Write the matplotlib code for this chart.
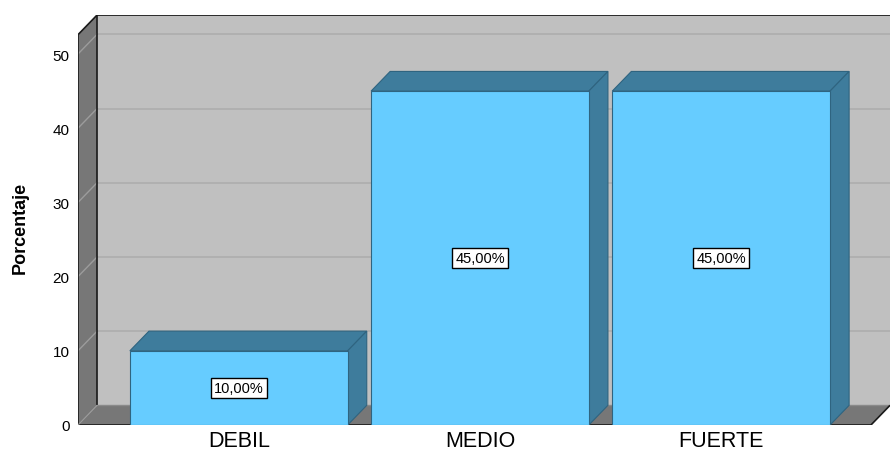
import matplotlib
matplotlib.use("Agg")
import matplotlib.pyplot as plt
from matplotlib.patches import Polygon, Rectangle

plt.rcParams['font.family'] = ['Liberation Sans', 'DejaVu Sans']

categories = ["DEBIL", "MEDIO", "FUERTE"]
porcentaje = [10.0, 45.0, 45.0]
yticks = [0, 10, 20, 30, 40, 50]

# colores tipo SPSS
FRONT = "#66CCFF"
SHADE = "#3E7C9C"
BAR_EDGE = "#2F6480"
WALL = "#C0C0C0"
SIDE = "#777777"
GRID_BACK = "#ADADAD"
GRID_SIDE = "#9C9C9C"

# geometria 3D en unidades de datos
DX = 0.079      # profundidad en x
DY = 2.65       # profundidad en y
X0 = -2 / 3     # plano frontal, borde izquierdo
TOP = 52.6      # altura frontal de la pared
XR = 2.70       # borde derecho (pared del fondo)
W = 0.903       # ancho de barra

fig = plt.figure(figsize=(8.9, 4.52), dpi=100)
ax = fig.add_axes([78 / 890, 26 / 452, (890 - 78) / 890, (424 - 14) / 452])
ax.set_xlim(X0, XR)
ax.set_ylim(0, (424 - 14) / 7.42)
for s in ax.spines.values():
    s.set_visible(False)

# pared del fondo
ax.add_patch(Rectangle((X0 + DX, DY), XR - X0 - DX, TOP, facecolor=WALL, edgecolor="none", zorder=1))
# pared lateral
ax.add_patch(Polygon([(X0, 0), (X0 + DX, DY), (X0 + DX, TOP + DY), (X0, TOP)],
                     facecolor=SIDE, edgecolor="none", zorder=1))
# piso
ax.add_patch(Polygon([(X0, 0), (X0 + DX, DY), (XR, DY), (XR - DX, 0)],
                     facecolor=SIDE, edgecolor="none", zorder=1))

# lineas de cuadricula
for v in yticks[1:]:
    ax.plot([X0 + DX, XR], [v + DY, v + DY], color=GRID_BACK, lw=1.2, zorder=2)
    ax.plot([X0, X0 + DX], [v, v + DY], color=GRID_SIDE, lw=1.0, zorder=2)

# bordes
k = dict(color="#1a1a1a", lw=1.2, zorder=3, solid_capstyle="butt")
ax.plot([X0, X0], [0, TOP], **k)
ax.plot([X0, X0 + DX, XR], [TOP, TOP + DY, TOP + DY], **k)
ax.plot([X0 + DX, X0 + DX], [DY, TOP + DY], **k)
ax.plot([X0, XR - DX, XR], [0, 0, DY], **k)
ax.plot([X0, X0 + DX], [0, DY], color="#9a9a9a", lw=0.8, zorder=3)
ax.plot([X0 + DX, XR], [DY, DY], color="#8a8a8a", lw=1.0, zorder=2)

# barras 3D
for i, v in enumerate(porcentaje):
    l, r = i - W / 2, i + W / 2
    ax.add_patch(Polygon([(l, v), (l + DX, v + DY), (r + DX, v + DY), (r, v)],
                         facecolor=SHADE, edgecolor=BAR_EDGE, lw=0.8, zorder=4))
    ax.add_patch(Polygon([(r, 0), (r + DX, DY), (r + DX, v + DY), (r, v)],
                         facecolor=SHADE, edgecolor=BAR_EDGE, lw=0.8, zorder=4))
    ax.add_patch(Rectangle((l, 0), W, v, facecolor=FRONT, edgecolor=BAR_EDGE, lw=0.8, zorder=5))
    ax.text(i, v / 2, f"{v:.2f}%".replace(".", ","), ha="center", va="center", fontsize=10.5,
            zorder=6, bbox=dict(boxstyle="square,pad=0.2", facecolor="white", edgecolor="black", lw=1))

ax.set_yticks(yticks)
ax.set_yticklabels([str(t) for t in yticks], fontsize=11)
ax.set_xticks(range(len(categories)))
ax.set_xticklabels(categories, fontsize=15.5)
ax.tick_params(axis="y", length=0, pad=6)
ax.tick_params(axis="x", length=0, pad=3.5)

fig.text(20 / 890, 1 - 228 / 452, "Porcentaje", rotation=90, ha="center", va="center",
         fontsize=13, fontweight="bold")

fig.savefig("out.png", dpi=100, facecolor="white")
